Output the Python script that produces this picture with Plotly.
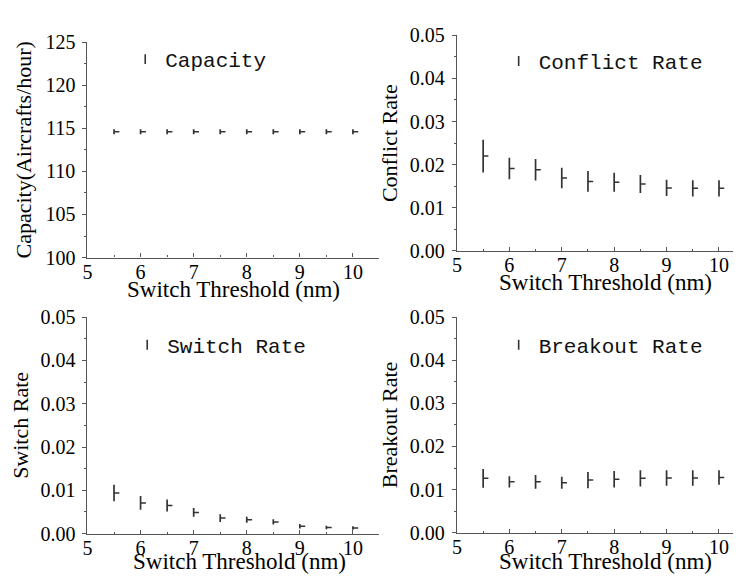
import plotly.graph_objects as go

thresholds = [5.5, 6.0, 6.5, 7.0, 7.5, 8.0, 8.5, 9.0, 9.5, 10.0]

capacity = [114.6, 114.6, 114.6, 114.6, 114.6, 114.6, 114.6, 114.6, 114.6, 114.6]
capacity_err = [0.3, 0.3, 0.3, 0.3, 0.3, 0.3, 0.3, 0.3, 0.3, 0.3]

conflict = [0.0220, 0.0191, 0.0188, 0.0169, 0.0161, 0.0159, 0.0155, 0.0146, 0.0145, 0.0145]
conflict_err = [0.0038, 0.0025, 0.0025, 0.0024, 0.0024, 0.0022, 0.0021, 0.0019, 0.0019, 0.0019]

switch = [0.0094, 0.0071, 0.0065, 0.0049, 0.0036, 0.0032, 0.0027, 0.0017, 0.0014, 0.0013]
switch_err = [0.0019, 0.0016, 0.0014, 0.0010, 0.0009, 0.0007, 0.0006, 0.0005, 0.0004, 0.0004]

breakout = [0.0126, 0.0118, 0.0118, 0.0116, 0.0122, 0.0124, 0.0126, 0.0127, 0.0127, 0.0128]
breakout_err = [0.0022, 0.0013, 0.0016, 0.0014, 0.0019, 0.0019, 0.0019, 0.0018, 0.0018, 0.0017]

x_title = "Switch Threshold (nm)"
y_titles = ["Capacity(Aircrafts/hour)", "Conflict Rate", "Switch Rate", "Breakout Rate"]
legend_names = ["Capacity", "Conflict Rate", "Switch Rate", "Breakout Rate"]

# the page body has an 8px margin; lay out in reference pixels and shift
OFF = 8
W, H = 741 - OFF, 586 - OFF
INK = "#333333"
AX = "#555555"
SERIF = "Liberation Serif, Times New Roman, serif"
MONO = "Liberation Mono, DejaVu Sans Mono, monospace"
TICK = 0.1  # length of the mean tick, in x units (style)

series = [(capacity, capacity_err), (conflict, conflict_err), (switch, switch_err), (breakout, breakout_err)]

# reference-pixel boxes: (x0, x1, ytop, ybottom)
boxes = [(83, 377, 32, 256), (455, 741, 25, 249), (83, 377, 318, 543), (455, 741, 318, 542)]
xranges = [[5, 10.5], [5, 10.42], [5, 10.5], [5, 10.42]]
yranges = [[100, 125], [0, 0.05], [0, 0.05], [0, 0.05]]
legend_text_pos = [(166, 50), (542, 52), (168, 347), (542, 347)]
# (center x, y, anchor)
xtitle_pos = [(230, 289, "middle"), (605, 282, "middle"), (236, 586, "bottom"), (605, 586, "bottom")]
ytitle_standoff = [7, 6, 6, 6]


def px(v):
    return (v - OFF) / W


def py(v):
    return 1 - (v - OFF) / H


fig = go.Figure()
layout = dict(
    width=W, height=H,
    margin=dict(l=0, r=0, t=0, b=0),
    paper_bgcolor="white", plot_bgcolor="white",
    showlegend=True,
    annotations=[],
)

for i, ((vals, errs), (x0, x1, yt, yb)) in enumerate(zip(series, boxes)):
    n = "" if i == 0 else str(i + 1)
    leg = "legend" + n
    fig.add_trace(go.Scatter(
        x=thresholds, y=vals,
        mode="markers",
        name=legend_names[i],
        showlegend=False,
        xaxis="x" + n, yaxis="y" + n,
        error_y=dict(type="data", array=errs, visible=True, width=0, thickness=1.7, color=INK),
        error_x=dict(type="data", symmetric=False, array=[TICK] * len(thresholds),
                     arrayminus=[0] * len(thresholds), visible=True, width=0, thickness=1.5, color=INK),
        marker=dict(size=1, color="rgba(0,0,0,0)"),
        hoverinfo="x+y",
    ))
    # legend key
    fig.add_trace(go.Scatter(
        x=[None], y=[None], mode="markers", name=legend_names[i], legend=leg,
        xaxis="x" + n, yaxis="y" + n,
        marker=dict(symbol="line-ns", size=7, line=dict(width=1.6, color=INK), color=INK),
        hoverinfo="skip",
    ))
    is_rate = i > 0
    layout["xaxis" + n] = dict(
        domain=[px(x0), min(px(x1), 1)], anchor="y" + n,
        range=xranges[i], dtick=1, tick0=5,
        showgrid=False, zeroline=False,
        showline=True, linecolor=AX, linewidth=1.2,
        ticks="inside", ticklen=4, tickcolor=AX, tickwidth=1.2,
        minor=dict(dtick=0.5, ticks="inside", ticklen=2, tickcolor=AX, tickwidth=1.2),
        tickfont=dict(family=SERIF, size=20, color="black"),
        ticklabelstandoff=-4,
        fixedrange=True,
    )
    layout["yaxis" + n] = dict(
        domain=[py(yb), py(yt)], anchor="x" + n,
        range=yranges[i], dtick=0.01 if is_rate else 5,
        tickformat=".2f" if is_rate else "d",
        showgrid=False, zeroline=False,
        showline=True, linecolor=AX, linewidth=1.2,
        ticks="outside", ticklen=4, tickcolor=AX, tickwidth=1.2,
        minor=dict(dtick=0.005 if is_rate else 2.5, ticks="outside", ticklen=2, tickcolor=AX, tickwidth=1.2),
        tickfont=dict(family=SERIF, size=20, color="black"),
        ticklabelstandoff=3,
        title=dict(text=y_titles[i], font=dict(family=SERIF, size=22, color="black"), standoff=ytitle_standoff[i]),
        fixedrange=True,
    )
    tx, ty = legend_text_pos[i]
    layout[leg] = dict(
        x=px(tx - 45), y=py(ty), xanchor="left", yanchor="middle",
        bgcolor="rgba(0,0,0,0)", borderwidth=0,
        font=dict(family=MONO, size=21, color="#111111"),
        itemsizing="trace",
    )
    ax, ay, anc = xtitle_pos[i]
    layout["annotations"].append(dict(
        text=x_title, xref="paper", yref="paper", x=px(ax), y=py(ay),
        xanchor="center", yanchor=anc, showarrow=False, borderpad=0,
        font=dict(family=SERIF, size=23, color="black"),
    ))

fig.update_layout(**layout)
fig.write_html("out.html")
